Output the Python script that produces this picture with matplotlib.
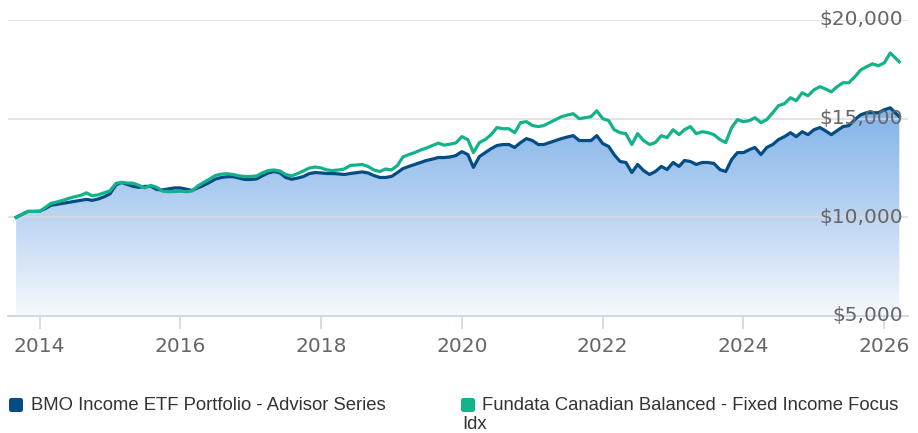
import numpy as np
import pandas as pd
import matplotlib
matplotlib.use('Agg')
import matplotlib.pyplot as plt
import matplotlib.dates as mdates
import matplotlib.transforms as mtransforms
from matplotlib.colors import LinearSegmentedColormap
from matplotlib.patches import FancyBboxPatch

# growth of $10,000, monthly (last point is the latest daily value)
dates = list(pd.date_range('2013-09-01', periods=150, freq='MS')) + [pd.Timestamp('2026-03-20')]

bmo = [10000, 10150, 10300, 10300, 10310, 10450, 10610, 10660, 10710, 10760,
       10810, 10860, 10910, 10860, 10930, 11040, 11190, 11640, 11770, 11670,
       11570, 11520, 11570, 11570, 11410, 11390, 11440, 11490, 11490, 11430,
       11360, 11490, 11620, 11770, 11940, 12020, 12060, 12060, 11990, 11920,
       11920, 11950, 12100, 12250, 12320, 12250, 12020, 11930, 11990, 12070,
       12220, 12270, 12250, 12220, 12220, 12200, 12170, 12220, 12260, 12300,
       12250, 12120, 12020, 12020, 12070, 12270, 12470, 12580, 12680, 12780,
       12880, 12950, 13030, 13030, 13060, 13130, 13330, 13180, 12530, 13080,
       13280, 13480, 13640, 13690, 13690, 13540, 13790, 13990, 13890, 13690,
       13690, 13790, 13890, 13990, 14070, 14140, 13890, 13890, 13890, 14140,
       13740, 13590, 13180, 12830, 12780, 12270, 12680, 12370, 12170, 12320,
       12580, 12420, 12780, 12580, 12880, 12830, 12680, 12780, 12780, 12730,
       12420, 12320, 12930, 13280, 13280, 13430, 13540, 13180, 13540, 13690,
       13940, 14090, 14290, 14090, 14340, 14190, 14440, 14550, 14390, 14190,
       14390, 14600, 14650, 14950, 15200, 15300, 15300, 15300, 15450, 15550, 15100]

fundata = [10000, 10150, 10300, 10300, 10300, 10510, 10710, 10780, 10860, 10960,
           11040, 11110, 11240, 11090, 11140, 11240, 11340, 11720, 11770, 11740,
           11730, 11620, 11490, 11620, 11520, 11330, 11300, 11310, 11320, 11300,
           11330, 11590, 11770, 11940, 12120, 12190, 12210, 12170, 12100, 12070,
           12070, 12100, 12250, 12370, 12400, 12350, 12170, 12100, 12220, 12350,
           12500, 12550, 12500, 12400, 12370, 12400, 12450, 12630, 12650, 12680,
           12580, 12400, 12320, 12450, 12400, 12630, 13060, 13180, 13280, 13410,
           13510, 13640, 13760, 13660, 13710, 13770, 14090, 13940, 13280, 13790,
           13940, 14190, 14550, 14490, 14490, 14290, 14800, 14850, 14650, 14600,
           14650, 14800, 14950, 15100, 15180, 15250, 15000, 15050, 15100, 15400,
           15000, 14900, 14440, 14290, 14240, 13690, 14240, 13890, 13690, 13790,
           14140, 14040, 14440, 14190, 14440, 14600, 14240, 14340, 14290, 14190,
           13940, 13790, 14550, 14950, 14850, 14900, 15050, 14800, 14950, 15300,
           15660, 15760, 16060, 15910, 16310, 16160, 16460, 16620, 16510, 16360,
           16620, 16820, 16820, 17120, 17470, 17630, 17780, 17680, 17830, 18330, 17880]

series_names = ['BMO Income ETF Portfolio - Advisor Series',
                'Fundata Canadian Balanced - Fixed Income Focus']
colors = ['#064c84', '#12b38b']
y_ticks = [5000, 10000, 15000, 20000]
x_years = [2014, 2016, 2018, 2020, 2022, 2024, 2026]

W, H = 918, 433
fig = plt.figure(figsize=(W / 100, H / 100), dpi=100)
ax = fig.add_axes([8 / W, 1 - 316 / H, 900 / W, 296 / H])

x = mdates.date2num(dates)
x0 = mdates.date2num(pd.Timestamp('2013-07-21'))
x1 = mdates.date2num(pd.Timestamp('2026-05-04'))
ax.set_xlim(x0, x1)
ax.set_ylim(5000, 20000)

# gradient area under the fund line
cmap = LinearSegmentedColormap.from_list(
    'area', ['#f6f9fd', '#bcd5f2', '#87b6ea', '#5f9be0'])
grad = np.linspace(0, 1, 256).reshape(-1, 1)
poly = ax.fill_between(x, bmo, 5000, color='none', lw=0)
im = ax.imshow(grad, extent=[x[0], x[-1], 5000, 20000], origin='lower',
               aspect='auto', cmap=cmap, zorder=1)
im.set_clip_path(poly.get_paths()[0], ax.transData)

for v in y_ticks[1:]:
    ax.axhline(v, color='#d9d9d9', lw=1.3, alpha=0.8, zorder=1.5)

ax.plot(x, bmo, color=colors[0], lw=2.3, zorder=3, solid_joinstyle='round')
ax.plot(x, fundata, color=colors[1], lw=2.3, zorder=4, solid_joinstyle='round')

for s in ['top', 'left', 'right']:
    ax.spines[s].set_visible(False)
ax.spines['bottom'].set_color('#ccd6eb')
ax.spines['bottom'].set_linewidth(1.3)

ax.set_yticks([])
ax.set_xticks([mdates.date2num(pd.Timestamp(f'{y}-01-01')) for y in x_years])
ax.set_xticklabels([str(y) for y in x_years])
ax.tick_params(axis='x', length=9, width=1.2, color='#ccd6eb', pad=6,
               labelsize=14.5, labelcolor='#666666')

trans = mtransforms.blended_transform_factory(ax.transAxes, ax.transData)
for v in y_ticks:
    ax.text(0.9945, v, f'${v:,}', transform=trans, ha='right', va='center',
            fontsize=14.5, color='#666666', zorder=6)

# legend
lg = fig.add_axes([0, 0, 1, 1], facecolor='none')
lg.set_xlim(0, W)
lg.set_ylim(H, 0)
lg.axis('off')
for (sx, tx), name, c in zip([(8, 31), (460, 482)], series_names, colors):
    lg.add_patch(FancyBboxPatch((sx + 1, 398), 14, 14, boxstyle='round,pad=0,rounding_size=2.5',
                                fc=c, ec='none'))
    lg.text(tx, 405.5, name, ha='left', va='center', fontsize=13.3,
            family='Liberation Sans', color='#333333')
lg.text(462, 424.5, 'Idx', ha='left', va='center', fontsize=13.3,
        family='Liberation Sans', color='#333333')

fig.savefig('out.png', dpi=100)
